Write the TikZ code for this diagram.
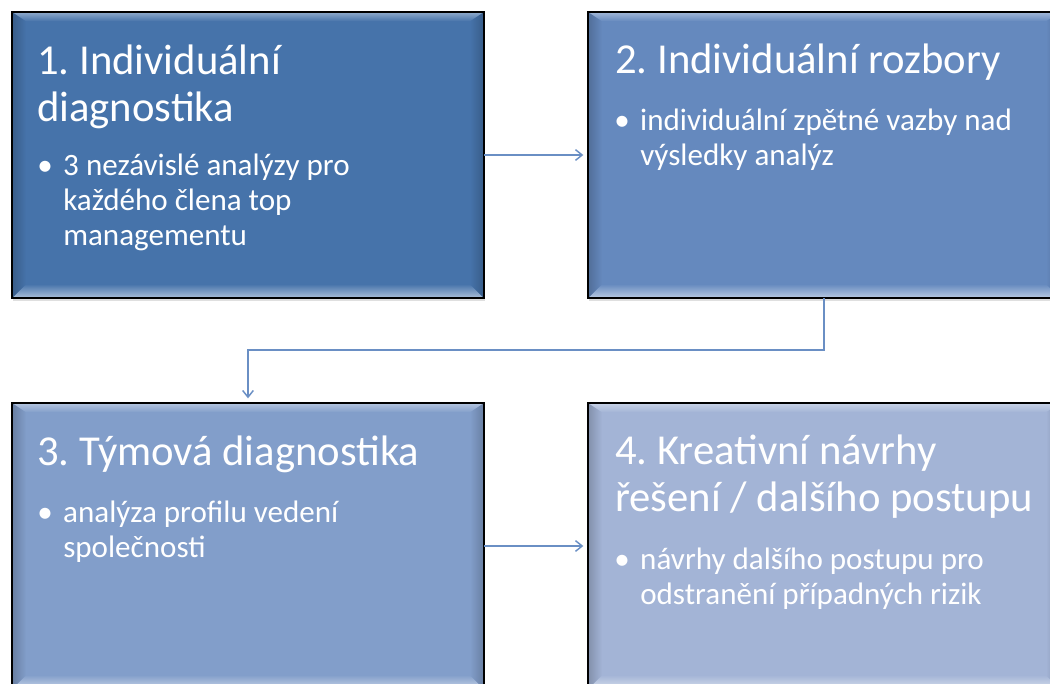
\documentclass[tikz,border=0pt]{standalone}
\usepackage{fontspec}
\setmainfont{Carlito}
\usepackage{tikz}
\usetikzlibrary{calc,positioning,shadows}
\usetikzlibrary{arrows.meta}
\tikzset{>={Straight Barb[length=5pt,width=8pt]}}
\frenchspacing

\definecolor{boxA}{HTML}{4673AA}
\definecolor{boxB}{HTML}{6589BE}
\definecolor{boxC}{HTML}{829ECA}
\definecolor{boxD}{HTML}{A3B4D6}
\definecolor{glare}{HTML}{D4E8FB}
\definecolor{link}{HTML}{6A8FC4}

\begin{document}
\begin{tikzpicture}[
x=0.75pt, y=-0.75pt,
box/.style = {draw=black, line width=1.1pt, fill=#1,
              minimum width=354pt, minimum height=214.5pt,
              inner sep=0pt, outer sep=0pt,
              drop shadow={shadow xshift=1pt, shadow yshift=-2pt,
                           opacity=0.25},
              path picture={ % bevel on all four edges
                \coordinate (nw) at (path picture bounding box.north west);
                \coordinate (ne) at (path picture bounding box.north east);
                \coordinate (sw) at (path picture bounding box.south west);
                \coordinate (se) at (path picture bounding box.south east);
                \shade[top color=#1!60!white, bottom color=#1]
                  (nw) -- (ne) -- ([shift={(-7pt,-7pt)}]ne)
                  -- ([shift={(7pt,-7pt)}]nw) -- cycle;
                \shade[top color=#1, bottom color=#1!45!white]
                  (sw) -- (se) -- ([shift={(-10.5pt,10.5pt)}]se)
                  -- ([shift={(10.5pt,10.5pt)}]sw) -- cycle;
                \shade[left color=#1!80!black, middle color=glare, right color=#1]
                  (nw) -- ([shift={(10.5pt,-7pt)}]nw)
                  -- ([shift={(10.5pt,10.5pt)}]sw) -- (sw) -- cycle;
                \shade[left color=#1, middle color=glare, right color=#1!80!black]
                  (ne) -- ([shift={(-10.5pt,-7pt)}]ne)
                  -- ([shift={(-10.5pt,10.5pt)}]se) -- (se) -- cycle;
              }},
title/.style = {text=white, inner sep=0pt, anchor=base west,
                font=\fontsize{32}{35.25}\selectfont},
body/.style  = {text=white, inner sep=0pt, anchor=base west,
                font=\fontsize{23.3}{26.25}\selectfont},
link/.style  = {draw=link, line width=1.1pt, ->, shorten >=3.5pt},
]
        \useasboundingbox (0,0) rectangle (1050,683);
        \node (box1) [box=boxA, anchor=north west] at (12,12) {};
        \node (box2) [box=boxB, right=78pt of box1] {};
        \node (title1) [title] at ($(box1.north west)+(25,62)$)
              {\begin{tabular}[t]{@{}l@{}}1. Individuální\\diagnostika\end{tabular}};
        \node (body1) [body] at ($(box1.north west)+(51,163)$)
              {\begin{tabular}[t]{@{}l@{}}\llap{\makebox[19.5pt][l]{•}}3 nezávislé analýzy pro\\každého člena top\\managementu\end{tabular}};
        \node (title2) [title] at ($(box2.north west)+(27,61)$)
              {\begin{tabular}[t]{@{}l@{}}2. Individuální rozbory\end{tabular}};
        \node (body2) [body] at ($(box2.north west)+(52,118)$)
              {\begin{tabular}[t]{@{}l@{}}\llap{\makebox[19.5pt][l]{•}}individuální zpětné vazby nad\\výsledky analýz\end{tabular}};
        % second row
        \node (box3) [box=boxC, below=78.75pt of box1] {};
        \node (box4) [box=boxD, right=78pt of box3] {};
        \node (title3) [title] at ($(box3.north west)+(25,62)$)
              {\begin{tabular}[t]{@{}l@{}}3. Týmová diagnostika\end{tabular}};
        \node (body3) [body] at ($(box3.north west)+(51,119)$)
              {\begin{tabular}[t]{@{}l@{}}\llap{\makebox[19.5pt][l]{•}}analýza profilu vedení\\společnosti\end{tabular}};
        \node (title4) [title] at ($(box4.north west)+(27,61)$)
              {\begin{tabular}[t]{@{}l@{}}4. Kreativní návrhy\\řešení / dalšího postupu\end{tabular}};
        \node (body4) [body] at ($(box4.north west)+(52,166)$)
              {\begin{tabular}[t]{@{}l@{}}\llap{\makebox[19.5pt][l]{•}}návrhy dalšího postupu pro\\odstranění případných rizik\end{tabular}};
        % connectors
        \draw[link] (box1.east) -- (box2.west);
        \draw[link] (box2.south) -- ++(0,52) -| (box3.north);
        \draw[link] (box3.east) -- (box4.west);
\end{tikzpicture}
\end{document}
